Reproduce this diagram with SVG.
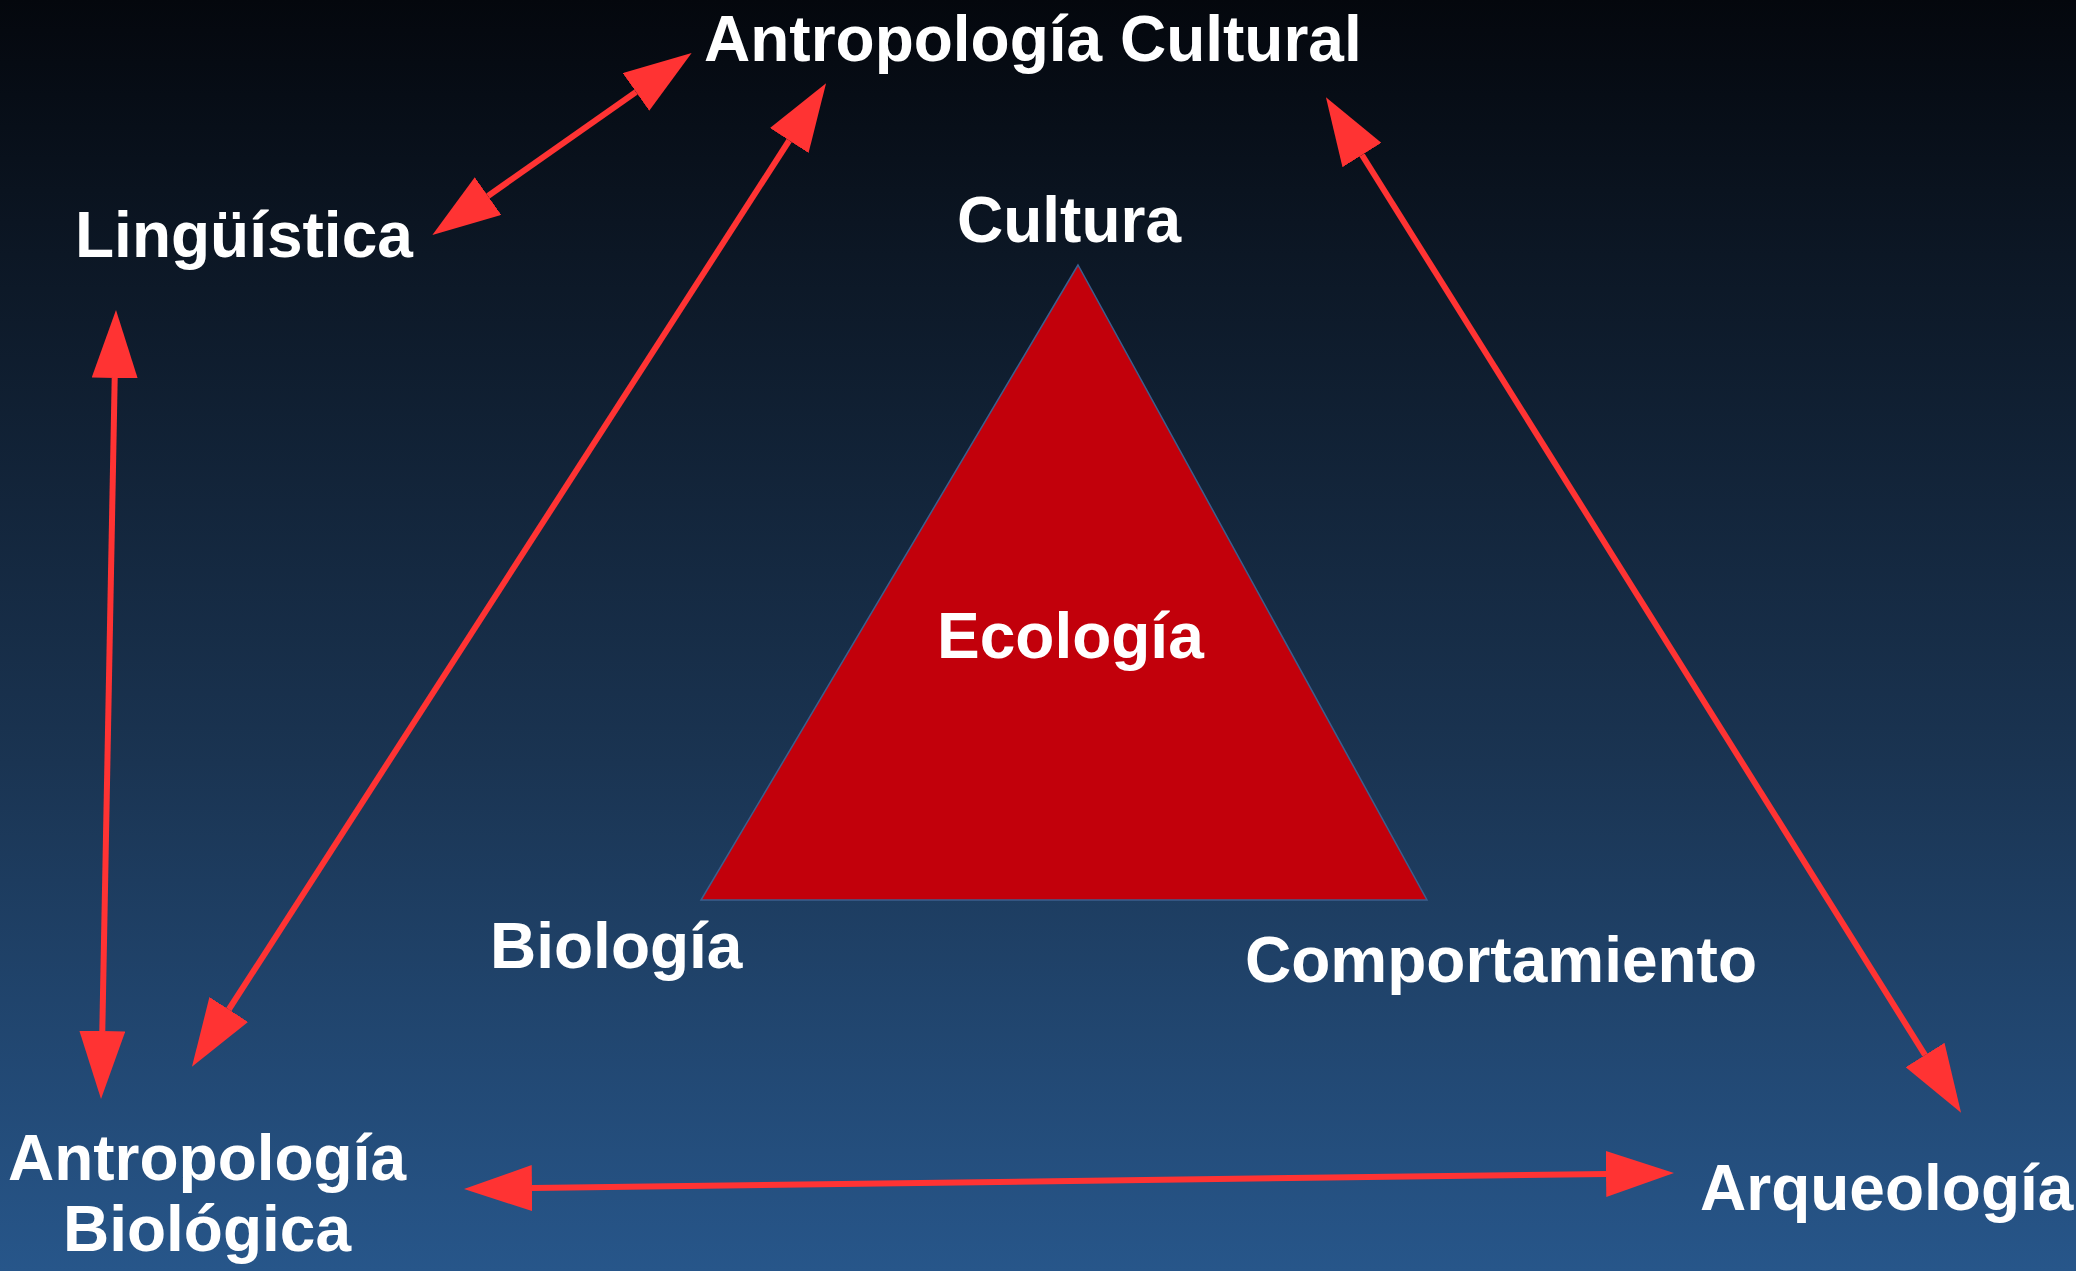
<svg xmlns="http://www.w3.org/2000/svg" width="2076" height="1271" viewBox="0 0 2076 1271">
<defs>
<linearGradient id="bg" x1="0" y1="0" x2="0" y2="1">
<stop offset="0" stop-color="#04070d"/>
<stop offset="0.2" stop-color="#0c1725"/>
<stop offset="0.6" stop-color="#1a3452"/>
<stop offset="1" stop-color="#27568a"/>
</linearGradient>
<marker id="ah" markerUnits="userSpaceOnUse" markerWidth="68" markerHeight="46" refX="0" refY="23" orient="auto-start-reverse" viewBox="0 0 68 46">
<path d="M0,0 L68,23 L0,46 Z" fill="#ff3333"/>
</marker>
</defs>
<style>
.t{font-family:"Liberation Sans",Arial,sans-serif;font-weight:bold;font-size:64px;fill:#ffffff;}
.c{stroke:#ff3333;stroke-width:6;fill:none;marker-start:url(#ah);marker-end:url(#ah);}
</style>
<rect x="0" y="0" width="2076" height="1271" fill="url(#bg)"/>
<g id="triangle">
<polygon points="1078,265 701,900 1427,900" fill="#c2000b" stroke="#3b5f8e" stroke-width="1.5"/>
<text class="t" x="937" y="658">Ecología</text>
</g>
<g id="cultura"><text class="t" x="957" y="242">Cultura</text></g>
<g id="biologia"><text class="t" x="490" y="968">Biología</text></g>
<g id="comportamiento"><text class="t" x="1245" y="982">Comportamiento</text></g>
<g id="antropologia-cultural"><text class="t" x="704" y="61">Antropología Cultural</text></g>
<g id="linguistica"><text class="t" x="75" y="257">Lingüística</text></g>
<g id="antropologia-biologica"><text class="t" text-anchor="middle" x="207" y="1180">Antropología</text><text class="t" text-anchor="middle" x="207" y="1251">Biológica</text></g>
<g id="arqueologia"><text class="t" x="1700" y="1210">Arqueología</text></g>
<g id="connectors">
<line class="c" x1="488" y1="196" x2="636" y2="92"/>
<line class="c" x1="228.8" y1="1009.5" x2="789.2" y2="140.5"/>
<line class="c" x1="1362" y1="155" x2="1925" y2="1055"/>
<line class="c" x1="114.7" y1="378" x2="102.3" y2="1031"/>
<line class="c" x1="532" y1="1188.1" x2="1606" y2="1173.9"/>
</g>
</svg>
